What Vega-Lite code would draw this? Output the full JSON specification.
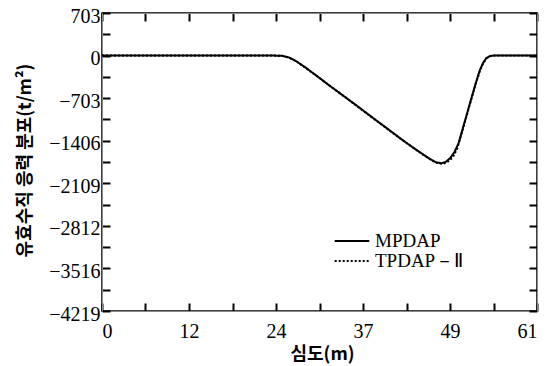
{
  "$schema": "https://vega.github.io/schema/vega-lite/v6.json",
  "width": 435,
  "height": 298,
  "autosize": "none",
  "padding": {"left": 102, "top": 13, "right": 16, "bottom": 55},
  "background": "white",
  "config": {
    "view": {"stroke": "black", "strokeWidth": 1.5},
    "legend": {
      "labelFont": "Liberation Serif",
      "labelFontSize": 19,
      "labelColor": "black"
    }
  },
  "data": {
    "values": [
      {"depth": 0, "stress": 0, "method": "MPDAP"},
      {"depth": 24, "stress": 0, "method": "MPDAP"},
      {"depth": 25.2, "stress": -3, "method": "MPDAP"},
      {"depth": 26.2, "stress": -30, "method": "MPDAP"},
      {"depth": 27.3, "stress": -97, "method": "MPDAP"},
      {"depth": 28.5, "stress": -195, "method": "MPDAP"},
      {"depth": 30, "stress": -325, "method": "MPDAP"},
      {"depth": 32, "stress": -505, "method": "MPDAP"},
      {"depth": 34.3, "stress": -703, "method": "MPDAP"},
      {"depth": 36, "stress": -852, "method": "MPDAP"},
      {"depth": 38, "stress": -1030, "method": "MPDAP"},
      {"depth": 40, "stress": -1205, "method": "MPDAP"},
      {"depth": 41.8, "stress": -1365, "method": "MPDAP"},
      {"depth": 43.5, "stress": -1510, "method": "MPDAP"},
      {"depth": 45, "stress": -1630, "method": "MPDAP"},
      {"depth": 46, "stress": -1710, "method": "MPDAP"},
      {"depth": 46.8, "stress": -1760, "method": "MPDAP"},
      {"depth": 47.6, "stress": -1780, "method": "MPDAP"},
      {"depth": 48.2, "stress": -1755, "method": "MPDAP"},
      {"depth": 48.8, "stress": -1696, "method": "MPDAP"},
      {"depth": 49.4, "stress": -1600, "method": "MPDAP"},
      {"depth": 50, "stress": -1450, "method": "MPDAP"},
      {"depth": 50.6, "stress": -1200, "method": "MPDAP"},
      {"depth": 51.6, "stress": -786, "method": "MPDAP"},
      {"depth": 52.4, "stress": -460, "method": "MPDAP"},
      {"depth": 53, "stress": -235, "method": "MPDAP"},
      {"depth": 53.5, "stress": -110, "method": "MPDAP"},
      {"depth": 53.9, "stress": -41, "method": "MPDAP"},
      {"depth": 54.4, "stress": -8, "method": "MPDAP"},
      {"depth": 54.9, "stress": 0, "method": "MPDAP"},
      {"depth": 61, "stress": 0, "method": "MPDAP"},
      {"depth": 0, "stress": 0, "method": "TPDAP－Ⅱ"},
      {"depth": 24, "stress": 0, "method": "TPDAP－Ⅱ"},
      {"depth": 25.2, "stress": -3, "method": "TPDAP－Ⅱ"},
      {"depth": 26.2, "stress": -32, "method": "TPDAP－Ⅱ"},
      {"depth": 27.3, "stress": -98, "method": "TPDAP－Ⅱ"},
      {"depth": 30, "stress": -328, "method": "TPDAP－Ⅱ"},
      {"depth": 34.3, "stress": -705, "method": "TPDAP－Ⅱ"},
      {"depth": 38, "stress": -1033, "method": "TPDAP－Ⅱ"},
      {"depth": 41.8, "stress": -1368, "method": "TPDAP－Ⅱ"},
      {"depth": 45, "stress": -1635, "method": "TPDAP－Ⅱ"},
      {"depth": 46.8, "stress": -1768, "method": "TPDAP－Ⅱ"},
      {"depth": 47.8, "stress": -1792, "method": "TPDAP－Ⅱ"},
      {"depth": 48.6, "stress": -1745, "method": "TPDAP－Ⅱ"},
      {"depth": 49.2, "stress": -1680, "method": "TPDAP－Ⅱ"},
      {"depth": 49.8, "stress": -1540, "method": "TPDAP－Ⅱ"},
      {"depth": 50.5, "stress": -1260, "method": "TPDAP－Ⅱ"},
      {"depth": 51.6, "stress": -800, "method": "TPDAP－Ⅱ"},
      {"depth": 52.4, "stress": -470, "method": "TPDAP－Ⅱ"},
      {"depth": 53, "stress": -250, "method": "TPDAP－Ⅱ"},
      {"depth": 53.4, "stress": -140, "method": "TPDAP－Ⅱ"},
      {"depth": 53.9, "stress": -45, "method": "TPDAP－Ⅱ"},
      {"depth": 54.5, "stress": -6, "method": "TPDAP－Ⅱ"},
      {"depth": 55, "stress": 0, "method": "TPDAP－Ⅱ"},
      {"depth": 61, "stress": 0, "method": "TPDAP－Ⅱ"}
    ]
  },
  "layer": [
    {
      "transform": [{"filter": "datum.method === 'MPDAP'"}],
      "mark": {"type": "line", "color": "black", "strokeWidth": 2},
      "encoding": {
        "x": {
          "field": "depth", "type": "quantitative",
          "scale": {"domain": [0, 61], "nice": false, "zero": false},
          "axis": {
            "orient": "bottom",
            "gridOpacity": 0,
            "ticks": true, "tickSize": -8, "tickColor": "black", "tickWidth": 2,
            "values": [0, 6.1, 12.2, 18.3, 24.4, 30.5, 36.6, 42.7, 48.8, 54.9, 61],
            "labelExpr": "round(datum.value / 6.1) % 2 == 0 ? format(datum.value, '.0f') : ''",
            "labelFont": "Liberation Serif", "labelFontSize": 20, "labelColor": "black",
            "labelPadding": 18,
            "title": "심도(m)",
            "titleFont": "Noto Sans CJK KR", "titleFontSize": 18, "titleFontWeight": "bold", "titleColor": "black",
            "titleX": 220,
            "titleY": 43,
            "titleBaseline": "middle",
            "titleAnchor": "middle"
          }
        },
        "y": {
          "field": "stress", "type": "quantitative",
          "scale": {"domain": [-4218.6, 703.1], "nice": false, "zero": false},
          "axis": {
            "orient": "left",
            "gridOpacity": 0,
            "ticks": true, "tickSize": -8, "tickColor": "black", "tickWidth": 2,
            "values": [703.1, 351.55, 0, -351.55, -703.1, -1054.65, -1406.2, -1757.75, -2109.3, -2460.85, -2812.4, -3163.95, -3515.5, -3867.05, -4218.6],
            "labelExpr": "abs(round(datum.value / 351.55)) % 2 == 0 ? format(datum.value, '.0f') : ''",
            "labelFont": "Liberation Serif", "labelFontSize": 20, "labelColor": "black",
            "labelPadding": 10,
            "labelOffset": 3,
            "title": "유효수직 응력 분포(t/m²)",
            "titleFont": "Noto Sans CJK KR", "titleFontSize": 18, "titleFontWeight": "bold", "titleColor": "black",
            "titleAngle": -90,
            "titleX": -77,
            "titleY": 147,
            "titleAlign": "center",
            "titleBaseline": "middle"
          }
        },
        "strokeDash": {
          "field": "method", "type": "nominal",
          "scale": {"domain": ["MPDAP", "TPDAP－Ⅱ"], "range": [[1, 0], [2, 2]]},
          "legend": {
            "title": null,
            "orient": "none",
            "legendX": 240,
            "legendY": 218,
            "symbolType": "M-2,0H2",
            "symbolSize": 300,
            "symbolStrokeColor": "black",
            "symbolFillColor": "transparent",
            "symbolStrokeWidth": 2,
            "labelOffset": 13,
            "rowPadding": 0
          }
        }
      }
    },
    {
      "transform": [{"filter": "datum.method !== 'MPDAP'"}],
      "mark": {"type": "line", "color": "black", "strokeWidth": 2},
      "encoding": {
        "x": {
          "field": "depth", "type": "quantitative",
          "scale": {"domain": [0, 61], "nice": false, "zero": false},
          "axis": {
            "orient": "top",
            "gridOpacity": 0,
            "ticks": true, "tickSize": -8, "tickColor": "black", "tickWidth": 2,
            "values": [0, 6.1, 12.2, 18.3, 24.4, 30.5, 36.6, 42.7, 48.8, 54.9, 61],
            "labels": false,
            "title": null
          }
        },
        "y": {
          "field": "stress", "type": "quantitative",
          "scale": {"domain": [-4218.6, 703.1], "nice": false, "zero": false},
          "axis": {
            "orient": "right",
            "gridOpacity": 0,
            "ticks": true, "tickSize": -8, "tickColor": "black", "tickWidth": 2,
            "values": [703.1, 351.55, 0, -351.55, -703.1, -1054.65, -1406.2, -1757.75, -2109.3, -2460.85, -2812.4, -3163.95, -3515.5, -3867.05, -4218.6],
            "labels": false,
            "title": null
          }
        },
        "strokeDash": {
          "field": "method", "type": "nominal",
          "scale": {"domain": ["MPDAP", "TPDAP－Ⅱ"], "range": [[1, 0], [2, 2]]}
        }
      }
    }
  ],
  "resolve": {"axis": {"x": "independent", "y": "independent"}}
}
